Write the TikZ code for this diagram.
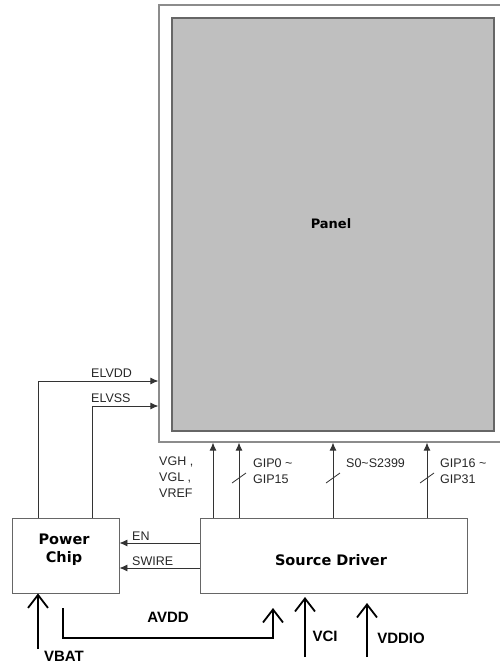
\documentclass[tikz,border=0pt]{standalone}
\usepackage{fontspec}
\setmainfont{Liberation Sans}
\newfontfamily\boxfont{DejaVu Sans}
\usetikzlibrary{arrows.meta,calc}
\begin{document}
\begin{tikzpicture}[x=1pt,y=-1pt,
  thinline/.style={draw=black!80,line width=0.9pt},
  sig/.style={thinline,-{Latex[length=8pt,width=7pt]}},
  bigarrow/.style={draw=black,line width=1.8pt,-{Straight Barb[length=13pt,width=20pt,line width=1.8pt]}},
  blk/.style={draw=black!60,line width=0.9pt,rectangle,inner sep=0pt},
  lbl/.style={font=\fontsize{12.5}{16}\selectfont,text=black!85,inner sep=0pt},
  blbl/.style={font=\boxfont\bfseries\fontsize{14.5}{18}\selectfont,align=center,inner sep=0pt},
  vlbl/.style={font=\bfseries\fontsize{15}{18}\selectfont,inner sep=0pt},
  slash/.style={thinline,line width=0.8pt}]
\useasboundingbox (0,0) rectangle (499,664);
% panel
\node[draw=black!45,line width=1.2pt,minimum width=346pt,minimum height=437pt,inner sep=0pt] (frame) at (332,223.5) {};
\node[blk,draw=black!60,line width=1.2pt,fill=black!25,minimum width=322pt,minimum height=413pt] (panel) at (333,224.5) {};
\node[blbl,font=\boxfont\bfseries\fontsize{13}{16}\selectfont] (ptxt) at (331,224) {Panel};
% blocks
\node[blk,minimum width=107pt,minimum height=75pt] (pc) at (65.5,555.5) {};
\node[blbl] (pctxt) at (64,550) {Power\\Chip};
\node[blk,minimum width=267pt,minimum height=75pt] (sd) at (333.5,555.5) {};
\node[blbl] (sdtxt) at (331,560) {Source Driver};
% coordinates
\coordinate (xa) at (38,381);
\coordinate (xb) at (92,406);
\coordinate (x1) at (213,0);
\coordinate (x2) at (239,0);
\coordinate (x3) at (333,0);
\coordinate (x4) at (427,0);
\coordinate (ye) at (0,543);
\coordinate (ys) at (0,568);
% ELVDD / ELVSS
\draw[sig] (pc.north -| xa) -- (xa) -- (frame.west |- xa);
\draw[sig] (pc.north -| xb) -- (xb) -- (frame.west |- xb);
\node[lbl,anchor=base west] (elvdd) at (91,377.5) {ELVDD};
\node[lbl,anchor=base west] (elvss) at (91,402.5) {ELVSS};
% EN / SWIRE
\draw[sig] (sd.west |- ye) -- (pc.east |- ye);
\draw[sig] (sd.west |- ys) -- (pc.east |- ys);
\node[lbl,anchor=base west] (en) at (132,540) {EN};
\node[lbl,anchor=base west] (swire) at (132,565) {SWIRE};
% vertical buses
\draw[sig] (sd.north -| x1) -- (frame.south -| x1);
\draw[sig] (sd.north -| x2) -- (frame.south -| x2);
\draw[sig] (sd.north -| x3) -- (frame.south -| x3);
\draw[sig] (sd.north -| x4) -- (frame.south -| x4);
\foreach \c in {x2,x3,x4}{
  \draw[slash] ($(\c |- 0,478)+(-7,5)$) -- ($(\c |- 0,478)+(7,-5)$);
}
\node[lbl,anchor=north west,align=left] (vgh) at (159,457) {VGH ,\\VGL ,\\VREF};
\node[lbl,anchor=north west,align=left] (gip0) at (253,459) {GIP0 \textasciitilde\\GIP15};
\node[lbl,anchor=north west,align=left] (s0) at (346,459) {S0\textasciitilde S2399};
\node[lbl,anchor=north west,align=left] (gip16) at (440,459) {GIP16 \textasciitilde\\GIP31};
% bottom supplies
\coordinate (vbatb) at (38,649);
\coordinate (avdd0) at (63,608);
\coordinate (avdd1) at (63,638);
\coordinate (avdd2) at (273,638);
\coordinate (avddt) at (273,608);
\coordinate (vcib) at (305,657);
\coordinate (vcit) at (305,597);
\coordinate (vddiob) at (367,657);
\coordinate (vddiot) at (367,603);
\draw[bigarrow] (vbatb) -- (pc.south -| vbatb);
\draw[bigarrow] (avdd0) -- (avdd1) -- (avdd2) -- (avddt);
\draw[bigarrow] (vcib) -- (vcit);
\draw[bigarrow] (vddiob) -- (vddiot);
\node[vlbl] (vbat) at (64,656) {VBAT};
\node[vlbl] (avdd) at (168,617) {AVDD};
\node[vlbl] (vci) at (325,636) {VCI};
\node[vlbl] (vddio) at (401,638) {VDDIO};
\end{tikzpicture}
\end{document}
